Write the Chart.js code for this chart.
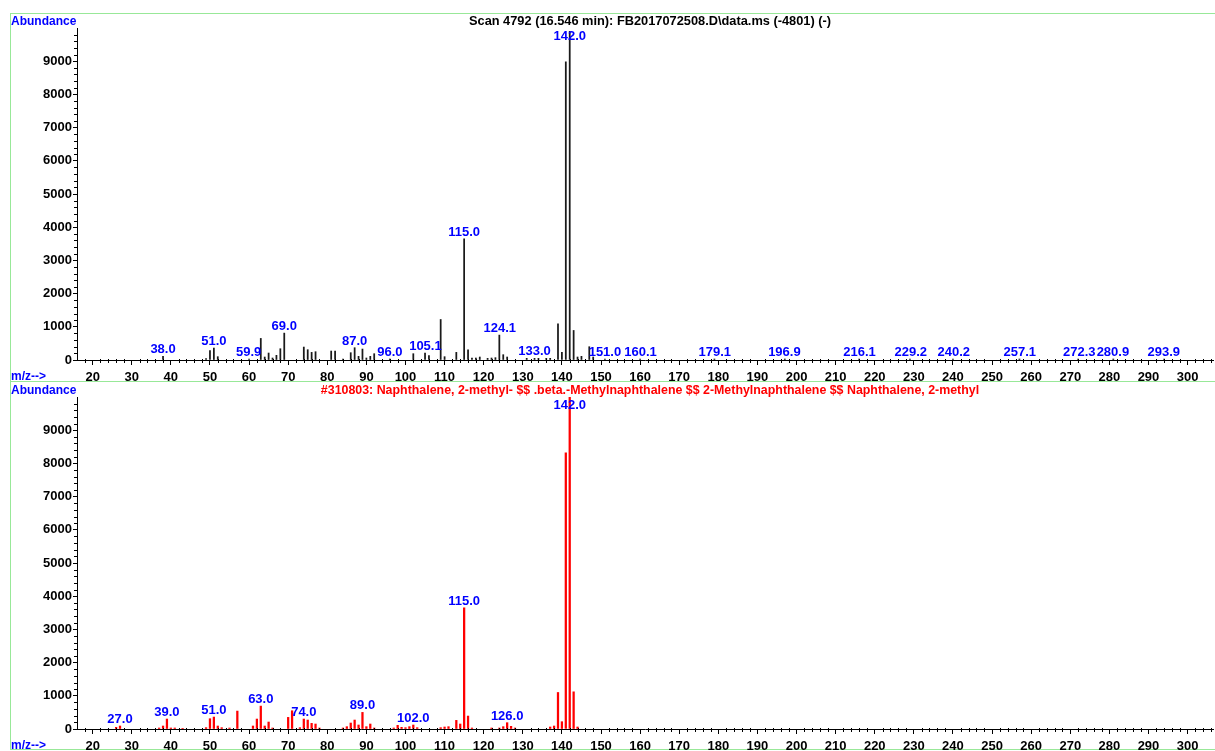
<!DOCTYPE html>
<html>
<head>
<meta charset="utf-8">
<script src="https://cdn.jsdelivr.net/npm/chart.js@4/dist/chart.umd.min.js"></script>
<style>
  body { margin: 0; background: #fff; width: 1215px; height: 751px; overflow: hidden; position: relative; font-family: "Liberation Sans", Arial, sans-serif; }
  .wrap { position: absolute; left: 0; width: 1215px; }
  .frame { position: absolute; border-top: 1px solid #98e898; border-left: 1px solid #98e898; }
  .txt { position: absolute; font-weight: bold; white-space: nowrap; line-height: 1; }
  .ctr { transform: translateX(-50%); }
</style>
</head>
<body>
<div class="frame" style="left:10px;top:13px;width:1205px;height:368px"></div>
<div class="frame" style="left:10px;top:381px;width:1205px;height:367px;border-bottom:1px solid #98e898"></div>
<div class="wrap" style="top:0;height:390px"><canvas id="topChart" width="1215" height="390"></canvas></div>
<div class="wrap" style="top:381px;height:372px"><canvas id="bottomChart" width="1215" height="372"></canvas></div>
<div class="txt" style="left:11px;top:15px;color:#00f;font-size:12px">Abundance</div>
<div class="txt ctr" style="left:650px;top:15px;color:#000;font-size:12.8px">Scan 4792 (16.546 min): FB2017072508.D\data.ms (-4801) (-)</div>
<div class="txt" style="left:11px;top:370px;color:#00f;font-size:12px">m/z--&gt;</div>
<div class="txt" style="left:11px;top:384px;color:#00f;font-size:12px">Abundance</div>
<div class="txt ctr" style="left:650px;top:384px;color:#f00;font-size:12.4px">#310803: Naphthalene, 2-methyl- $$ .beta.-Methylnaphthalene $$ 2-Methylnaphthalene $$ Naphthalene, 2-methyl</div>
<div class="txt" style="left:11px;top:739px;color:#00f;font-size:12px">m/z--&gt;</div>
<script>
// sample scan (black)
const scanMz = [38, 49, 50, 51, 52, 60, 63, 64, 65, 66, 67, 68, 69, 74, 75, 76, 77, 81, 82, 84,
  86, 87, 88, 89, 90, 91, 92, 96, 102, 105, 106, 109, 110, 113, 115, 116, 117, 118, 119, 121,
  122, 123, 124, 125, 126, 131, 133, 134, 136, 137, 139, 140, 141, 142, 143, 144, 145, 147, 148, 151,
  160, 179, 197, 216, 229, 240, 257, 272, 281, 294];
const scanAbund = [110, 40, 280, 360, 100, 30, 650, 90, 210, 60, 140, 340, 810, 390, 310, 230, 250, 270, 270, 30,
  220, 370, 110, 330, 60, 110, 190, 30, 190, 210, 130, 1220, 100, 230, 3650, 310, 60, 60, 90, 50,
  60, 70, 750, 160, 90, 50, 50, 50, 50, 50, 1090, 230, 8980, 9900, 890, 90, 110, 400, 90, 30,
  30, 30, 30, 30, 30, 30, 30, 30, 30, 30];
const scanLabels = ["38.0", "51.0", "59.9", "69.0", "87.0", "96.0", "105.1", "115.0", "124.1", "133.0",
  "142.0", "151.0", "160.1", "179.1", "196.9", "216.1", "229.2", "240.2", "257.1", "272.3", "280.9", "293.9"];

// library match (red)
const libMz = [26, 27, 37, 38, 39, 40, 41, 43, 49, 50, 51, 52, 53, 55, 57, 61, 62, 63, 64, 65,
  66, 70, 71, 73, 74, 75, 76, 77, 78, 84, 85, 86, 87, 88, 89, 90, 91, 92, 97, 98,
  99, 100, 101, 102, 103, 109, 110, 111, 113, 114, 115, 116, 117, 122, 124, 125, 126, 127, 128, 137,
  138, 139, 140, 141, 142, 143, 144];
const libAbund = [50, 90, 30, 90, 300, 30, 30, 20, 40, 310, 360, 90, 40, 30, 540, 90, 300, 690, 90, 210,
  30, 350, 550, 40, 300, 270, 170, 150, 30, 30, 70, 180, 270, 120, 500, 70, 150, 30, 30, 110,
  50, 40, 70, 120, 40, 40, 60, 70, 260, 150, 3650, 390, 30, 30, 30, 70, 190, 80, 30, 60,
  90, 1100, 220, 8320, 9999, 1120, 60];
const libLabels = ["27.0", "39.0", "51.0", "63.0", "74.0", "89.0", "102.0", "115.0", "126.0", "142.0"];

const xTicks = [20, 30, 40, 50, 60, 70, 80, 90, 100, 110, 120, 130, 140, 150, 160, 170, 180, 190, 200,
  210, 220, 230, 240, 250, 260, 270, 280, 290, 300];
const yTicks = [0, 1000, 2000, 3000, 4000, 5000, 6000, 7000, 8000, 9000];

const tickFont = { family: "'Liberation Sans', Arial, sans-serif", size: 13, weight: "bold" };

const minorTicks = {
  id: "minorTicks",
  afterDraw(chart) {
    const { ctx, chartArea } = chart;
    const x = chart.scales.x;
    const y = chart.scales.y;
    ctx.save();
    ctx.strokeStyle = "#000";
    ctx.lineWidth = 1;
    ctx.beginPath();
    for (let v = 18; v <= 306; v += 2) {
      if (v % 10 === 0) continue;
      const px = Math.round(x.getPixelForValue(v)) + 0.5;
      ctx.moveTo(px, chartArea.bottom - 1);
      ctx.lineTo(px, chartArea.bottom + 3);
    }
    for (let v = 200; v <= 10000; v += 200) {
      if (v % 1000 === 0) continue;
      const py = Math.round(y.getPixelForValue(v)) + 0.5;
      ctx.moveTo(chartArea.left - 3, py);
      ctx.lineTo(chartArea.left + 1, py);
    }
    ctx.stroke();
    ctx.restore();
  },
};

const peakLabels = {
  id: "peakLabels",
  afterDatasetsDraw(chart, args, opts) {
    const { ctx, chartArea } = chart;
    const x = chart.scales.x;
    const y = chart.scales.y;
    ctx.save();
    ctx.fillStyle = "#0000ff";
    ctx.font = "bold 13px 'Liberation Sans', Arial, sans-serif";
    ctx.textAlign = "center";
    ctx.textBaseline = "alphabetic";
    opts.labels.forEach((txt) => {
      const mz = parseFloat(txt);
      const i = opts.mz.indexOf(Math.round(mz));
      const h = i >= 0 ? opts.abund[i] : 0;
      const base = Math.max(chartArea.top + 12, y.getPixelForValue(h) - 3);
      ctx.fillText(txt, x.getPixelForValue(mz), base);
    });
    ctx.restore();
  },
};

function makeChart(id, mz, abund, labels, color, thickness, padTop, padBottom) {
  return new Chart(document.getElementById(id), {
    type: "bar",
    data: {
      datasets: [{
        data: mz.map((m, i) => ({ x: m, y: abund[i] })),
        backgroundColor: color,
        borderWidth: 0,
        barThickness: thickness,
      }],
    },
    options: {
      responsive: false,
      animation: false,
      layout: { padding: { left: 0, right: 2, top: padTop, bottom: padBottom } },
      plugins: {
        legend: { display: false },
        tooltip: { enabled: false },
        peakLabels: { labels, mz, abund },
      },
      scales: {
        x: {
          type: "linear",
          min: 16,
          max: 306.5,
          offset: false,
          afterBuildTicks: (s) => { s.ticks = xTicks.map((v) => ({ value: v })); },
          afterFit: (s) => { s.height = 21; },
          ticks: { color: "#000", font: tickFont, padding: 5, maxRotation: 0, autoSkip: false,
            callback: (v) => String(v) },
          grid: { drawOnChartArea: false, tickLength: 5, color: "#000", offset: false },
          border: { display: true, color: "#000", width: 1 },
        },
        y: {
          min: 0,
          max: 10000,
          afterBuildTicks: (s) => { s.ticks = yTicks.map((v) => ({ value: v })); },
          afterFit: (s) => { s.width = 77; },
          ticks: { color: "#000", font: tickFont, padding: 1, callback: (v) => String(v) },
          grid: { drawOnChartArea: false, tickLength: 4, color: "#000" },
          border: { display: true, color: "#000", width: 1 },
        },
      },
    },
    plugins: [minorTicks, peakLabels],
  });
}

makeChart("topChart", scanMz, scanAbund, scanLabels, "#1a1a1a", 1.1, 28, 9);
makeChart("bottomChart", libMz, libAbund, libLabels, "#ff0000", 1.6, 16, 3);
</script>
</body>
</html>
